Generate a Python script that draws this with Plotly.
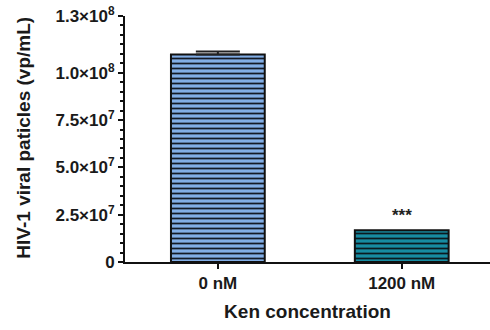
import plotly.graph_objects as go

categories = ["0 nM", "1200 nM"]
values = [1.097e8, 1.68e7]
errors = [1.6e6, 0]
bar_colors = ["#82aee6", "#178ca2"]
mortar_colors = ["#141a26", "#0b1a20"]
tick_vals = [0, 2.5e7, 5.0e7, 7.5e7, 1.0e8, 1.3e8]
tick_text = ["<b>0</b>", "<b>2.5×10<sup>7</sup></b>", "<b>5.0×10<sup>7</sup></b>",
             "<b>7.5×10<sup>7</sup></b>", "<b>1.0×10<sup>8</sup></b>", "<b>1.3×10<sup>8</sup></b>"]
significance = ["", "***"]
y_title = "HIV-1 viral paticles (vp/mL)"
x_title = "Ken concentration"

font = "Liberation Sans, Arial, sans-serif"

fig = go.Figure()
for i in range(len(categories)):
    fig.add_trace(go.Bar(
        x=[i], y=[values[i]], width=0.51,
        marker=dict(color=bar_colors[i],
                    line=dict(color="#111111", width=2),
                    pattern=dict(shape="-", fgcolor=mortar_colors[i], bgcolor=bar_colors[i],
                                 size=5, solidity=0.35, fillmode="replace", fgopacity=1)),
        error_y=dict(type="data", array=[errors[i]], arrayminus=[0], symmetric=False,
                     color="#222222", thickness=2, width=22, visible=errors[i] > 0),
        showlegend=False,
    ))

for i, s in enumerate(significance):
    if s:
        fig.add_annotation(x=i, y=values[i], text="<b>" + s + "</b>", showarrow=False,
                           yanchor="bottom", yshift=3,
                           font=dict(family=font, size=17, color="#222222"))

fig.add_annotation(x=-0.277, y=0.505, xref="paper", yref="paper", text="<b>" + y_title + "</b>",
                   textangle=-90, showarrow=False, xanchor="center", yanchor="middle",
                   font=dict(family=font, size=19, color="#1a1a1a"))

fig.update_layout(
    width=490, height=330,
    margin=dict(l=125, r=0, t=16, b=68),
    paper_bgcolor="white", plot_bgcolor="white",
    font=dict(family=font, color="#1a1a1a"),
    barmode="overlay",
)
fig.update_xaxes(
    range=[-0.505, 1.48], tickmode="array", tickvals=[0, 1],
    ticktext=["<b>" + c + "</b>" for c in categories],
    ticks="outside", ticklen=5, tickwidth=2, tickcolor="#111111",
    showline=True, linecolor="#111111", linewidth=2, showgrid=False, zeroline=False,
    tickfont=dict(size=17, family=font),
    title=dict(text="<b>" + x_title + "</b>", font=dict(size=19, family=font), standoff=12),
)
fig.update_yaxes(
    range=[0, 1.3e8], tickmode="array", tickvals=tick_vals, ticktext=tick_text,
    ticks="outside", ticklen=5, tickwidth=2, tickcolor="#111111",
    minor=dict(dtick=5e6, ticks="outside", ticklen=3, tickwidth=1.5, tickcolor="#111111", showgrid=False),
    showline=True, linecolor="#111111", linewidth=2, showgrid=False, zeroline=False,
    tickfont=dict(size=17, family=font),
)

fig.write_html("out.html", config={"displayModeBar": False},
               post_script="document.body.style.margin='0';")
